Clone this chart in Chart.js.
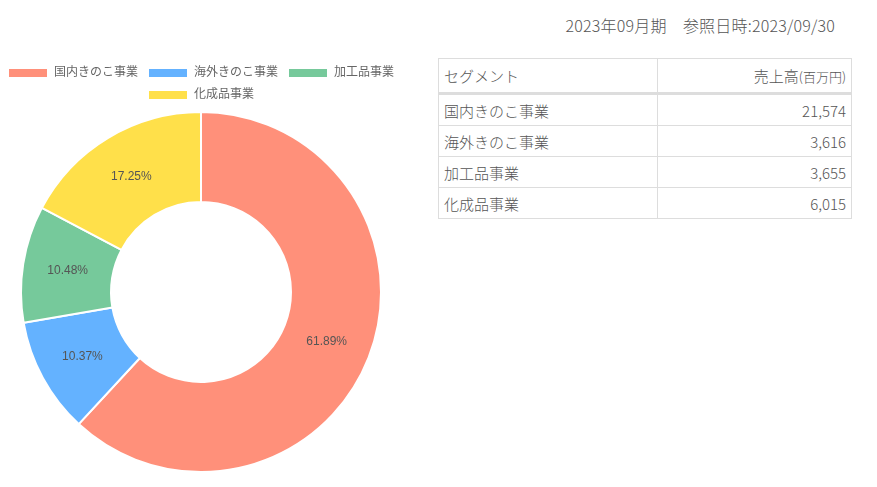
<!DOCTYPE html>
<html><head><meta charset="utf-8">
<script src="https://cdn.jsdelivr.net/npm/chart.js@4/dist/chart.umd.min.js"></script>
<style>
html,body{margin:0;padding:0;background:#fff;width:877px;height:487px;overflow:hidden;font-family:"Noto Sans CJK JP","Noto Sans",sans-serif;}
#hdr{position:absolute;top:13px;right:42px;font-size:16px;color:#555;font-weight:300;white-space:pre;letter-spacing:0.2px;}
#cw{position:absolute;left:-4px;top:57px;width:410px;height:416px;}
table{position:absolute;left:438px;top:58px;width:414px;border-collapse:collapse;font-size:15px;color:#555;font-weight:300;}
td,th{border:1px solid #ddd;padding:0 5px;font-weight:300;height:30px;}
th{height:33px;text-align:left;border-bottom:3px solid #ddd;}
th.r,td.r{text-align:right;}
th small{font-size:13px;}
</style></head><body>
<div id="hdr">2023年09月期　参照日時:2023/09/30</div>
<div id="cw"><canvas id="c"></canvas></div>
<table id="t"></table>
<script>
const categories = ["国内きのこ事業","海外きのこ事業","加工品事業","化成品事業"];
const sales = [21574, 3616, 3655, 6015];
const colors = ["#FF907A","#64B2FF","#76C99B","#FFE04A"];

const t = document.getElementById('t');
let html = '<tr><th>セグメント</th><th class="r">売上高<small>(百万円)</small></th></tr>';
categories.forEach((c,i)=>{ html += '<tr><td>'+c+'</td><td class="r">'+sales[i].toLocaleString('en-US')+'</td></tr>'; });
t.innerHTML = html;

const pctPlugin = {
  id:'pct',
  afterDatasetsDraw(chart){
    const ctx = chart.ctx;
    const meta = chart.getDatasetMeta(0);
    const data = chart.data.datasets[0].data;
    const total = data.reduce((a,b)=>a+b,0);
    ctx.save();
    ctx.font = '12px "Liberation Sans", Arial, sans-serif';
    ctx.fillStyle = '#555';
    ctx.textAlign = 'center';
    ctx.textBaseline = 'middle';
    meta.data.forEach((arc,i)=>{
      const p = arc.tooltipPosition();
      ctx.fillText((data[i]/total*100).toFixed(2)+'%', p.x, p.y);
    });
    ctx.restore();
  }
};

new Chart(document.getElementById('c'), {
  type:'doughnut',
  data:{labels:categories, datasets:[{data:sales, backgroundColor:colors, borderColor:'#fff', borderWidth:2}]},
  options:{
    responsive:true, maintainAspectRatio:false, animation:false, cutout:'50%',
    layout:{padding:0},
    plugins:{
      legend:{position:'top', labels:{color:'#666', font:{size:12, family:'"Liberation Sans", "Noto Sans CJK JP", sans-serif'}, boxWidth:40, boxHeight:10}},
      tooltip:{enabled:false}
    }
  },
  plugins:[pctPlugin]
});
</script>
</body></html>
